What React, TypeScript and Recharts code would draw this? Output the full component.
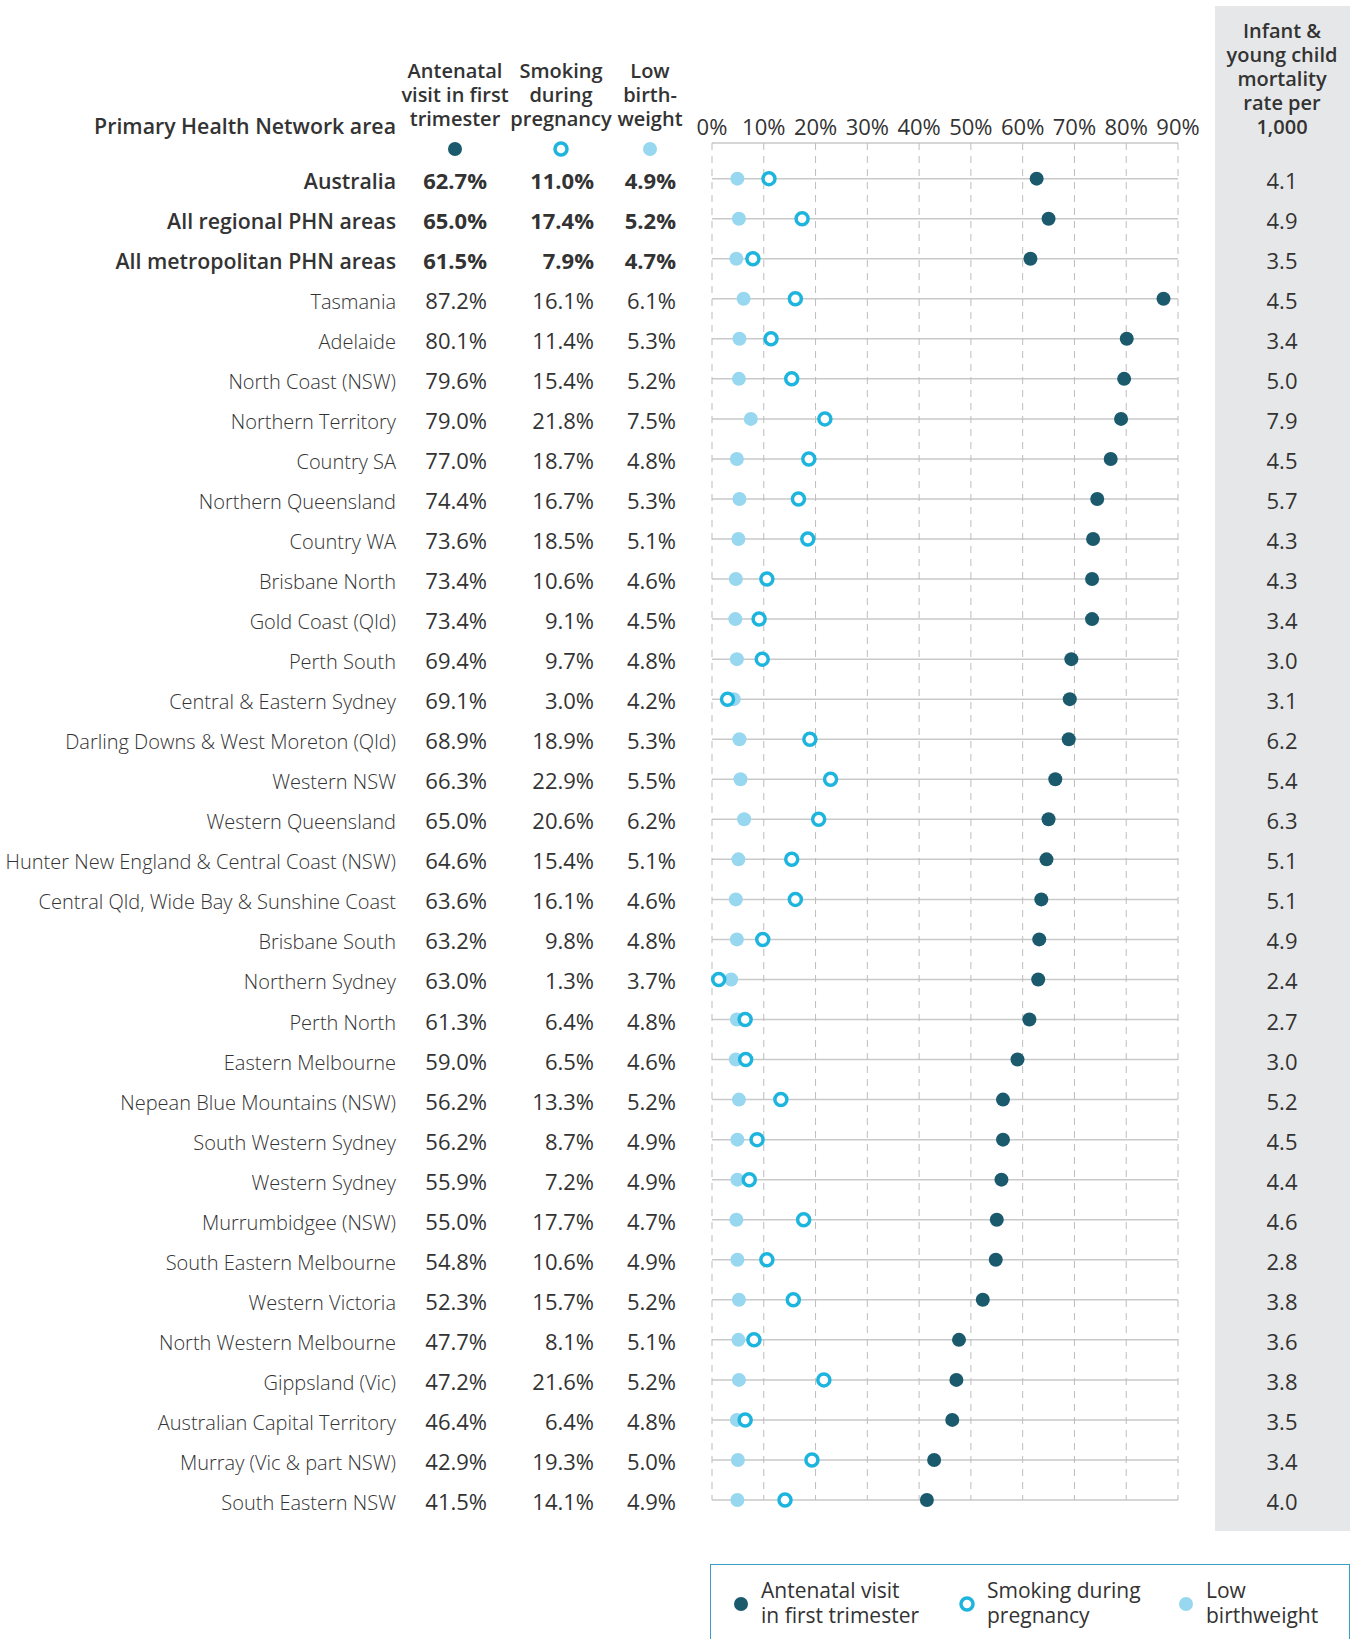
import React from 'react';
import { ScatterChart, Scatter, XAxis, YAxis, CartesianGrid } from 'recharts';

const areas = [
  'Australia', 'All regional PHN areas', 'All metropolitan PHN areas', 'Tasmania', 'Adelaide',
  'North Coast (NSW)', 'Northern Territory', 'Country SA', 'Northern Queensland', 'Country WA',
  'Brisbane North', 'Gold Coast (Qld)', 'Perth South', 'Central & Eastern Sydney',
  'Darling Downs & West Moreton (Qld)', 'Western NSW', 'Western Queensland',
  'Hunter New England & Central Coast (NSW)', 'Central Qld, Wide Bay & Sunshine Coast',
  'Brisbane South', 'Northern Sydney', 'Perth North', 'Eastern Melbourne',
  'Nepean Blue Mountains (NSW)', 'South Western Sydney', 'Western Sydney', 'Murrumbidgee (NSW)',
  'South Eastern Melbourne', 'Western Victoria', 'North Western Melbourne', 'Gippsland (Vic)',
  'Australian Capital Territory', 'Murray (Vic & part NSW)', 'South Eastern NSW',
];

const antenatal = [
  62.7, 65.0, 61.5, 87.2, 80.1, 79.6, 79.0, 77.0, 74.4, 73.6, 73.4, 73.4, 69.4, 69.1, 68.9, 66.3, 65.0,
  64.6, 63.6, 63.2, 63.0, 61.3, 59.0, 56.2, 56.2, 55.9, 55.0, 54.8, 52.3, 47.7, 47.2, 46.4, 42.9, 41.5,
];
const smoking = [
  11.0, 17.4, 7.9, 16.1, 11.4, 15.4, 21.8, 18.7, 16.7, 18.5, 10.6, 9.1, 9.7, 3.0, 18.9, 22.9, 20.6,
  15.4, 16.1, 9.8, 1.3, 6.4, 6.5, 13.3, 8.7, 7.2, 17.7, 10.6, 15.7, 8.1, 21.6, 6.4, 19.3, 14.1,
];
const lowBirthweight = [
  4.9, 5.2, 4.7, 6.1, 5.3, 5.2, 7.5, 4.8, 5.3, 5.1, 4.6, 4.5, 4.8, 4.2, 5.3, 5.5, 6.2,
  5.1, 4.6, 4.8, 3.7, 4.8, 4.6, 5.2, 4.9, 4.9, 4.7, 4.9, 5.2, 5.1, 5.2, 4.8, 5.0, 4.9,
];
const mortality = [
  4.1, 4.9, 3.5, 4.5, 3.4, 5.0, 7.9, 4.5, 5.7, 4.3, 4.3, 3.4, 3.0, 3.1, 6.2, 5.4, 6.3,
  5.1, 5.1, 4.9, 2.4, 2.7, 3.0, 5.2, 4.5, 4.4, 4.6, 2.8, 3.8, 3.6, 3.8, 3.5, 3.4, 4.0,
];
const summaryRows = 3;
const xTicks = [0, 10, 20, 30, 40, 50, 60, 70, 80, 90];

const DARK = '#1b5a6d';
const RING = '#1db4de';
const LIGHT = '#97d7ef';
const TEXT = '#333333';
const FONT = '"Open Sans", "Noto Sans", sans-serif';

const rowIdx = areas.map((_, i) => i);
const yDomain = [-0.89, areas.length - 1];
const toPoints = (vals: number[]) => vals.map((v, i) => ({ v, i }));

const DarkDot = (p: any) => <circle cx={p.cx} cy={p.cy} r={7} fill={DARK} />;
const RingDot = (p: any) => (
  <circle cx={p.cx} cy={p.cy} r={6} fill="#fff" stroke={RING} strokeWidth={3.5} />
);
const LightDot = (p: any) => <circle cx={p.cx} cy={p.cy} r={7} fill={LIGHT} />;

function RowTick({ x, y, payload }: any) {
  const i = payload.value;
  const bold = i < summaryRows;
  const fmt = (n: number) => `${n.toFixed(1)}%`;
  const common = { y: y + 10, fill: TEXT, textAnchor: 'end' as const };
  return (
    <g style={{ fontFamily: FONT }}>
      <text {...common} x={x - 316} fontSize={bold ? 21.3 : 20} fontWeight={bold ? 600 : 300}>
        {areas[i]}
      </text>
      <text {...common} x={x - 225} fontSize={22} fontWeight={bold ? 700 : 400}>{fmt(antenatal[i])}</text>
      <text {...common} x={x - 118} fontSize={22} fontWeight={bold ? 700 : 400}>{fmt(smoking[i])}</text>
      <text {...common} x={x - 36} fontSize={22} fontWeight={bold ? 700 : 400}>{fmt(lowBirthweight[i])}</text>
    </g>
  );
}

function MortalityTick({ x, y, payload }: any) {
  return (
    <text x={x + 104} y={y + 10} textAnchor="middle" fontSize={22} fill={TEXT}
      fontWeight={500} style={{ fontFamily: FONT }}>
      {mortality[payload.value].toFixed(1)}
    </text>
  );
}

const headerLine: React.CSSProperties = {
  position: 'absolute', fontFamily: FONT, fontSize: 20, color: TEXT, fontWeight: 600,
  lineHeight: '24px', textAlign: 'center', whiteSpace: 'nowrap',
};

function ColHeader({ cx, lines, dot }: { cx: number; lines: string[]; dot: React.ReactNode }) {
  return (
    <>
      <div style={{ ...headerLine, left: cx - 80, width: 160, top: 59 }}>
        {lines.map((l) => <div key={l}>{l}</div>)}
      </div>
      <svg style={{ position: 'absolute', left: cx - 10, top: 139 }} width={20} height={20}>
        {dot}
      </svg>
    </>
  );
}

function LegendItem({ left, lines, dot }: { left: number; lines: string[]; dot: React.ReactNode }) {
  return (
    <div style={{ position: 'absolute', left, top: 13 }}>
      <svg style={{ position: 'absolute', left: 0, top: 16 }} width={20} height={20}>{dot}</svg>
      <div style={{ position: 'absolute', left: 30, top: 0, fontFamily: FONT, fontSize: 21,
        lineHeight: '25px', color: TEXT, whiteSpace: 'nowrap' }}>
        {lines.map((l) => <div key={l}>{l}</div>)}
      </div>
    </div>
  );
}

export default function App() {
  return (
    <div style={{ position: 'relative', width: 1357, height: 1639, overflow: 'hidden', background: '#fff' }}>
      <style>{'body{margin:0}'}</style>

      {/* grey mortality panel */}
      <div style={{ position: 'absolute', left: 1215, top: 6, width: 135, height: 1525, background: '#e6e7e9' }} />
      <div style={{ ...headerLine, left: 1202, width: 160, top: 19 }}>
        {['Infant &', 'young child', 'mortality', 'rate per', '1,000'].map((l) => <div key={l}>{l}</div>)}
      </div>

      <div style={{ ...headerLine, fontSize: 21.3, lineHeight: '26px', left: 0, width: 396, top: 113, textAlign: 'right' }}>
        Primary Health Network area
      </div>
      <ColHeader cx={455} lines={['Antenatal', 'visit in first', 'trimester']}
        dot={<circle cx={10} cy={10} r={7} fill={DARK} />} />
      <ColHeader cx={561} lines={['Smoking', 'during', 'pregnancy']}
        dot={<circle cx={10} cy={10} r={6} fill="#fff" stroke={RING} strokeWidth={3.5} />} />
      <ColHeader cx={650} lines={['Low', 'birth-', 'weight']}
        dot={<circle cx={10} cy={10} r={7} fill={LIGHT} />} />

      <div style={{ position: 'absolute', left: 0, top: 0 }}>
        <ScatterChart width={1357} height={1540} margin={{ top: 113, right: 0, bottom: 40, left: 0 }}>
          <CartesianGrid vertical={false} stroke="#c9c9c9" strokeWidth={1.5} />
          <CartesianGrid horizontal={false} stroke="#bdbdbd" strokeDasharray="7 6" />
          <XAxis type="number" dataKey="v" orientation="top" domain={[0, 90]} ticks={xTicks}
            height={30} axisLine={false} tickLine={false} tickSize={0} tickMargin={8}
            tickFormatter={(v) => `${v}%`}
            tick={{ fontSize: 22, fill: TEXT, fontFamily: FONT }} />
          <YAxis type="number" dataKey="i" yAxisId={0} domain={yDomain} reversed ticks={rowIdx}
            interval={0} width={712} axisLine={false} tickLine={false} tickSize={0} tickMargin={0}
            tick={<RowTick />} />
          {/* mortality column: an axis with no series of its own */}
          <YAxis type="number" dataKey="i" yAxisId="r" orientation="right" domain={yDomain} reversed
            ticks={rowIdx} interval={0} width={179} axisLine={false} tickLine={false} tickSize={0}
            tickMargin={0} tick={<MortalityTick />} allowDataOverflow />
          <Scatter name="Low birthweight" data={toPoints(lowBirthweight)} shape={LightDot} isAnimationActive={false} />
          <Scatter name="Smoking during pregnancy" data={toPoints(smoking)} shape={RingDot} isAnimationActive={false} />
          <Scatter name="Antenatal visit in first trimester" data={toPoints(antenatal)} shape={DarkDot} isAnimationActive={false} />
        </ScatterChart>
      </div>

      {/* legend box */}
      <div style={{ position: 'absolute', left: 710, top: 1564, width: 640, height: 100,
        border: '1.5px solid #3a9dc6', boxSizing: 'border-box' }}>
        <LegendItem left={20} lines={['Antenatal visit', 'in first trimester']}
          dot={<circle cx={10} cy={10} r={7} fill={DARK} />} />
        <LegendItem left={246} lines={['Smoking during', 'pregnancy']}
          dot={<circle cx={10} cy={10} r={6} fill="#fff" stroke={RING} strokeWidth={3.5} />} />
        <LegendItem left={465} lines={['Low', 'birthweight']}
          dot={<circle cx={10} cy={10} r={7} fill={LIGHT} />} />
      </div>
    </div>
  );
}
